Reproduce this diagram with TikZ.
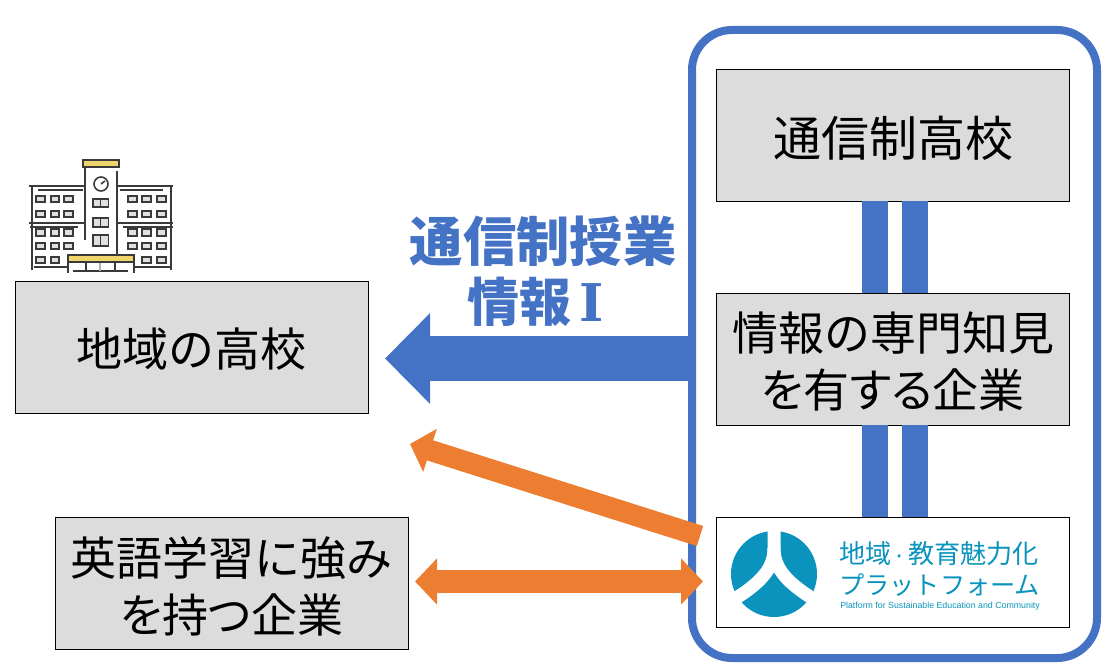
\documentclass[tikz,border=0pt]{standalone}
\usepackage{fontspec}
\usetikzlibrary{arrows.meta}
\setmainfont{Noto Sans CJK JP}
\setsansfont{Liberation Sans}
\newfontfamily\paltfont[RawFeature=+palt]{Noto Sans CJK JP}
\newfontfamily\numeralfont{DejaVu Serif}
\newcommand{\lift}[1]{\rule{0pt}{#1}}
\definecolor{pblue}{HTML}{4472C4}
\definecolor{porange}{HTML}{ED7D31}
\definecolor{pgray}{HTML}{DCDCDC}
\definecolor{pteal}{HTML}{0A93BC}
\definecolor{pyellow}{HTML}{EFD36B}
\definecolor{pink}{HTML}{3A3A3A}
\tikzset{
  x=0.75pt,y=-0.75pt,
  graybox/.style={draw=black,line width=0.6pt,fill=pgray,inner sep=0pt,outer sep=0pt,align=center,
    minimum width=353*0.75pt,minimum height=132*0.75pt,
    font=\fontsize{34.5pt}{43pt}\selectfont},
  whitebox/.style={draw=black,line width=0.6pt,fill=white,inner sep=0pt,outer sep=0pt,
    minimum width=353*0.75pt,minimum height=110*0.75pt},
  bluebar/.style={draw=pblue,line width=26*0.75pt},
  bigarrow/.style={draw=pblue,line width=45*0.75pt,-{Triangle[length=45*0.75pt,width=88*0.75pt]}},
  oneway/.style={draw=porange,line width=21*0.75pt,-{Triangle[length=21*0.75pt,width=44*0.75pt]}},
  twoway/.style={draw=porange,line width=23*0.75pt,{Triangle[length=22*0.75pt,width=45*0.75pt]}-{Triangle[length=22*0.75pt,width=45*0.75pt]}},
  heading/.style={text=pblue,inner sep=0pt,font=\fontsize{40pt}{48pt}\selectfont\bfseries},
  logotext/.style={text=pteal,inner sep=0pt,font=\fontsize{19.6pt}{20pt}\selectfont},
  ink/.style={draw=pink,line width=1.2pt},
  win/.style={draw=pink,fill=black!12,line width=1.05pt},
  gold/.style={draw=pink,fill=pyellow,line width=0.9pt},
}
\begin{document}
\begin{tikzpicture}
\useasboundingbox (0,0) rectangle (1120,670);
% frame
\node[draw=pblue,line width=8*0.75pt,rounded corners=30pt,fill=white,inner sep=0pt,outer sep=0pt,
  minimum width=405*0.75pt,minimum height=628*0.75pt] (frame) at (894.5,344) {};
% boxes
\node[graybox,font=\fontsize{36pt}{43pt}\selectfont] (top) at (893,135) {\lift{34.7pt}通信制高校};
\node[graybox] (mid) at (893,359) {\lift{33pt}情報の専門知見\\{\paltfont を有する企業}};
\node[whitebox] (logo) at (893,572) {};
\node[graybox] (school) at (191.5,347.5) {\lift{32pt}地域の高校};
\node[graybox] (eng) at (231.5,583) {\lift{34pt}英語学習に強み\\{\paltfont を持つ企業}};
% bars
\foreach \dx in {-18,22}{
  \draw[bluebar] ([xshift=\dx*0.75pt]top.south) -- ([xshift=\dx*0.75pt]mid.north);
  \draw[bluebar] ([xshift=\dx*0.75pt]mid.south) -- ([xshift=\dx*0.75pt]logo.north);
}
% arrows
\coordinate (bigA) at (692,358.5);
\coordinate (bigB) at (385,358.5);
\coordinate (oneA) at (700,536);
\coordinate (oneB) at (410,444);
\coordinate (twoA) at (703,581.5);
\coordinate (twoB) at (415,581.5);
\draw[bigarrow] (bigA) -- (bigB);
\draw[oneway] (oneA) -- (oneB);
\draw[twoway] (twoB) -- (twoA);
% heading
\node[heading] (h1) at (543,241) {通信制授業};
\node[heading,anchor=west,font=\fontsize{39pt}{48pt}\selectfont\bfseries] (h2) at (467,302) {情報\hspace{6pt}{\numeralfont\bfseries Ⅰ}};
% logo
\fill[pteal] (774,574) circle [radius=43];
\draw[white,line width=13*0.75pt] (774,522) -- (774,548) .. controls (774,568) and (762,583) .. (728,603);
\draw[white,line width=13*0.75pt] (774,548) .. controls (774,568) and (786,583) .. (820,603);
\node[logotext,anchor=west] (l1) at (839,554) {地域\hspace{2.5pt}{\sffamily·}\hspace{3.5pt}教育魅力化};
\node[logotext,anchor=west,font=\fontsize{18.9pt}{20pt}\selectfont] (l2) at (839,585) {プラットフォーム};
\node[text=pteal,inner sep=0pt,anchor=west,font=\sffamily\fontsize{6.6pt}{8pt}\selectfont] (l3) at (840,606) {Platform for Sustainable Education and Community};
% school icon
\draw[gold] (83,160) rectangle (119,167);
\draw[ink] (85,167) -- (85,240);
\draw[ink] (117,171) -- (117,255);
\draw[ink] (101,184) circle [radius=7];
\draw[ink] (101,184) -- (105,181);
\draw[ink] (29,186) -- (84,186) (38,190) -- (83,190);
\draw[ink] (118,186) -- (173,186) (120,190) -- (163,190);
\draw[ink] (32,186) -- (32,270) (171,186) -- (171,270);
\draw[ink] (29,223) -- (84,223) (30,227) -- (78,227);
\draw[ink] (118,223) -- (173,223) (123,227) -- (173,227);
\foreach \y/\h in {199/8,218/9,235/11}{
  \draw[win] (93,\y) rectangle (100.5,\y+\h);
  \draw[win] (100.5,\y) rectangle (108.5,\y+\h);
}
\foreach \y/\h in {196/6,211/6,229/7,243/6}{
  \foreach \x/\w in {36/9,51/8,64/9,128/9,142/9,157/9}{
    \draw[win] (\x,\y) rectangle (\x+\w,\y+\h);
  }
}
\foreach \x/\w in {36/9,51/8,142/9,157/9}{
  \draw[win] (\x,257) rectangle (\x+\w,263);
}
\draw[ink] (34,267) -- (68,267) (134,267) -- (170,267);
\draw[ink] (68,262) -- (68,273) (134,262) -- (134,273);
\draw[ink] (73,271) -- (128,271) (86,262) -- (86,271) (115,262) -- (115,271);
\draw[draw=black!30,line width=1pt] (100,262) -- (100,271);
\draw[gold] (68,255) rectangle (134,262);
\end{tikzpicture}
\end{document}
